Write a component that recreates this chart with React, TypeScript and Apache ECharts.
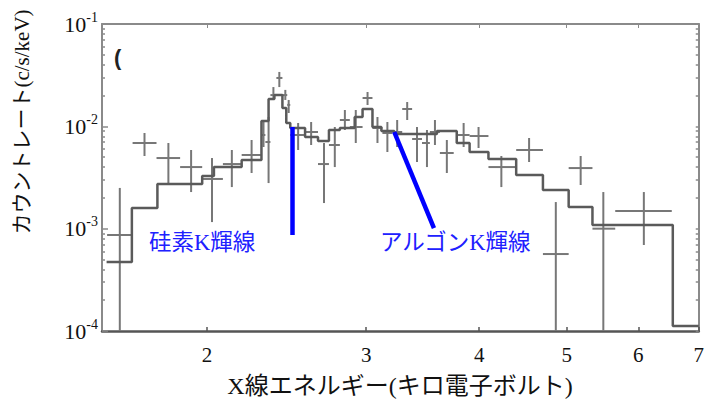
import React, { useEffect, useRef } from "react";
import * as echarts from "echarts";

// Model (step histogram): bin edges in keV and levels in c/s/keV
const modelEdges = [
  1.548, 1.651, 1.762, 1.975, 2.035, 2.184, 2.297, 2.339, 2.374, 2.423, 2.447,
  2.472, 2.567, 2.653, 2.728, 2.805, 2.913, 2.972, 3.048, 3.118, 3.222, 3.592,
  3.778, 3.904, 4.096, 4.396, 4.706, 5.025, 5.339, 6.552, 7.0,
];
const modelLevels = [
  4.72e-4, 1.59e-3, 2.73e-3, 3.27e-3, 4.0e-3, 4.69e-3, 1.127e-2, 1.85e-2,
  2.02e-2, 1.51e-2, 1.078e-2, 9.63e-3, 7.86e-3, 7.19e-3, 9.21e-3, 9.63e-3,
  1.234e-2, 1.477e-2, 9.85e-3, 9.0e-3, 8.41e-3, 9.0e-3, 6.87e-3, 5.61e-3,
  4.79e-3, 3.34e-3, 2.39e-3, 1.63e-3, 1.086e-3, 1.119e-4,
];

// Observed data points with error bars
const errE = [
  1.601, 1.705, 1.812, 1.92, 2.025, 2.13, 2.24, 2.309, 2.339, 2.368, 2.404,
  2.441, 2.462, 2.522, 2.607, 2.694, 2.769, 2.841, 2.921, 3.01, 3.087, 3.166,
  3.246, 3.33, 3.414, 3.502, 3.574, 3.684, 3.845, 3.994, 4.233, 4.543, 4.863,
  5.181, 5.489, 6.086,
];
const errELo = [
  1.55, 1.654, 1.758, 1.867, 1.975, 2.082, 2.184, 2.297, 2.32, 2.35, 2.386,
  2.423, 2.453, 2.472, 2.567, 2.653, 2.728, 2.805, 2.877, 2.972, 3.048, 3.126,
  3.206, 3.288, 3.372, 3.458, 3.528, 3.619, 3.778, 3.904, 4.096, 4.396, 4.706,
  5.025, 5.339, 5.658,
];
const errEHi = [
  1.651, 1.758, 1.867, 1.975, 2.082, 2.184, 2.297, 2.32, 2.35, 2.386, 2.423,
  2.453, 2.472, 2.567, 2.653, 2.728, 2.805, 2.877, 2.972, 3.048, 3.126, 3.206,
  3.288, 3.372, 3.458, 3.528, 3.619, 3.749, 3.904, 4.096, 4.396, 4.706, 5.025,
  5.339, 5.658, 6.535,
];
const rate = [
  8.67e-4, 6.87e-3, 4.9e-3, 4.0e-3, 3.06e-3, 4.28e-3, 5.25e-3, 8.23e-3,
  7.03e-3, 2.02e-2, 2.97e-2, 2.02e-2, 1.62e-2, 8.23e-3, 8.8e-3, 4.28e-3,
  6.57e-3, 1.153e-2, 9.85e-3, 1.891e-2, 9.63e-3, 8.61e-3, 8.8e-3, 1.477e-2,
  7.52e-3, 6.87e-3, 8.8e-3, 5.49e-3, 8.23e-3, 8.04e-3, 4.0e-3, 5.87e-3,
  5.65e-4, 3.91e-3, 1.0e-3, 1.49e-3,
];
const rateLo = [
  1e-4, 5.13e-3, 2.79e-3, 2.28e-3, 1.16e-3, 2.55e-3, 3.5e-3, 6.28e-3, 2.79e-3,
  1.81e-2, 2.42e-2, 1.81e-2, 1.35e-2, 5.87e-3, 6.57e-3, 1.78e-3, 4.0e-3,
  9.21e-3, 6.87e-3, 1.616e-2, 6.87e-3, 5.61e-3, 6.28e-3, 1.153e-2, 4.48e-3,
  4.0e-3, 6.57e-3, 3.5e-3, 6.28e-3, 6.14e-3, 2.55e-3, 4.48e-3, 1e-4, 2.67e-3,
  1e-4, 6.92e-4,
];
const rateHi = [
  2.5e-3, 8.61e-3, 6.87e-3, 5.87e-3, 4.9e-3, 5.87e-3, 7.35e-3, 1.153e-2,
  1.234e-2, 2.42e-2, 3.4e-2, 2.27e-2, 1.81e-2, 1.078e-2, 1.102e-2, 6.87e-3,
  9.85e-3, 1.444e-2, 1.444e-2, 2.165e-2, 1.234e-2, 1.102e-2, 1.153e-2,
  1.728e-2, 9.85e-3, 9.21e-3, 1.153e-2, 7.35e-3, 1.078e-2, 9.85e-3, 5.13e-3,
  7.69e-3, 1.82e-3, 5.13e-3, 2.28e-3, 2.28e-3,
];

// Axis ticks
const xTickValues = [2, 3, 4, 5, 6, 7];
const yMajorValues = [1e-4, 1e-3, 1e-2, 1e-1];
const mantissas = [2, 3, 4, 5, 6, 7, 8, 9];

// Annotation pointer lines (data coordinates)
const siPointer = [
  [2.485, 9.85e-3],
  [2.485, 8.67e-4],
];
const arPointer = [
  [3.222, 8.8e-3],
  [3.565, 1.01e-3],
];

const siLabel = "硅素K輝線";
const arLabel = "アルゴンK輝線";
const xTitle = "X線エネルギー(キロ電子ボルト)";
const yTitle = "カウントレート(c/s/keV)";

const FONT = '"Liberation Serif", "Noto Sans CJK JP", serif';

export default function App() {
  const ref = useRef<HTMLDivElement>(null);

  useEffect(() => {
    if (!ref.current) return;
    const chart = echarts.init(ref.current, null, { renderer: "svg" });

    const modelData: number[][] = modelLevels.map((v, i) => [modelEdges[i], v]);
    modelData.push([
      modelEdges[modelEdges.length - 1],
      modelLevels[modelLevels.length - 1],
    ]);

    const yMinor: number[] = [];
    for (let d = 0; d < yMajorValues.length - 1; d++) {
      for (const m of mantissas) yMinor.push(m * yMajorValues[d]);
    }

    const errData = errE.map((e, i) => [
      e,
      rate[i],
      errELo[i],
      errEHi[i],
      rateLo[i],
      rateHi[i],
    ]);

    const yFormatter = (v: number) => {
      const e = Math.round(Math.log10(v));
      return `{b|10}{s|${e}}`;
    };

    const frameGray = "#8a8a8a";

    chart.setOption({
      animation: false,
      backgroundColor: "#ffffff",
      grid: { left: 102, right: 3, top: 24, bottom: 71, containLabel: false },
      xAxis: [
        {
          type: "log",
          logBase: 10,
          min: 1.53,
          max: 7.0,
          position: "bottom",
          axisLine: { show: true, lineStyle: { color: "#555", width: 2.5 } },
          axisTick: {
            show: true,
            inside: true,
            length: 4,
            customValues: xTickValues,
            lineStyle: { color: "#555", width: 1.5 },
          },
          minorTick: { show: false },
          splitLine: { show: false },
          axisLabel: {
            customValues: xTickValues,
            formatter: (v: number) => String(Math.round(v)),
            fontFamily: FONT,
            fontSize: 21,
            color: "#111",
            margin: 13,
          },
        },
        {
          type: "log",
          logBase: 10,
          min: 1.53,
          max: 7.0,
          position: "top",
          axisLine: { show: true, lineStyle: { color: frameGray, width: 2 } },
          axisTick: {
            show: true,
            inside: true,
            length: 4,
            customValues: xTickValues,
            lineStyle: { color: frameGray },
          },
          axisLabel: { show: false },
          splitLine: { show: false },
        },
      ],
      yAxis: [
        {
          type: "log",
          logBase: 10,
          min: 1e-4,
          max: 1e-1,
          position: "left",
          axisLine: { show: true, lineStyle: { color: frameGray, width: 2 } },
          axisTick: {
            show: true,
            inside: true,
            length: 6,
            customValues: yMajorValues,
            lineStyle: { color: frameGray, width: 1.5 },
          },
          splitLine: { show: false },
          axisLabel: {
            customValues: yMajorValues,
            formatter: yFormatter,
            margin: 4,
            rich: {
              b: { fontFamily: FONT, fontSize: 22, color: "#111" },
              s: {
                fontFamily: FONT,
                fontSize: 14,
                color: "#111",
                padding: [0, 0, 14, 0],
              },
            },
          },
        },
        {
          type: "log",
          logBase: 10,
          min: 1e-4,
          max: 1e-1,
          position: "left",
          axisLine: { show: false },
          axisTick: {
            show: true,
            inside: true,
            length: 3,
            customValues: yMinor,
            lineStyle: { color: frameGray, width: 1.5 },
          },
          axisLabel: { show: false },
          splitLine: { show: false },
        },
        {
          type: "log",
          logBase: 10,
          min: 1e-4,
          max: 1e-1,
          position: "right",
          axisLine: { show: true, lineStyle: { color: frameGray, width: 2 } },
          axisTick: {
            show: true,
            inside: true,
            length: 3,
            customValues: yMinor.concat(yMajorValues),
            lineStyle: { color: frameGray, width: 1.5 },
          },
          axisLabel: { show: false },
          splitLine: { show: false },
        },
      ],
      series: [
        {
          type: "custom",
          name: "data",
          xAxisIndex: 0,
          yAxisIndex: 0,
          clip: true,
          data: errData,
          renderItem: (params: any, api: any) => {
            const c = api.coord([api.value(0), api.value(1)]);
            const l = api.coord([api.value(2), api.value(1)]);
            const r = api.coord([api.value(3), api.value(1)]);
            const lo = api.coord([api.value(0), api.value(4)]);
            const hi = api.coord([api.value(0), api.value(5)]);
            const style = { stroke: "#777777", lineWidth: 2 };
            return {
              type: "group",
              children: [
                {
                  type: "line",
                  shape: { x1: l[0], y1: c[1], x2: r[0], y2: c[1] },
                  style,
                },
                {
                  type: "line",
                  shape: { x1: c[0], y1: lo[1], x2: c[0], y2: hi[1] },
                  style,
                },
              ],
            };
          },
          z: 2,
        },
        {
          type: "line",
          name: "model",
          xAxisIndex: 0,
          yAxisIndex: 0,
          step: "end",
          data: modelData,
          showSymbol: false,
          symbol: "none",
          lineStyle: { color: "#5a5a5a", width: 2.5 },
          z: 3,
          markLine: {
            silent: true,
            symbol: ["none", "none"],
            label: { show: false },
            lineStyle: { color: "#0000ff", width: 4.5, type: "solid" },
            data: [
              [{ coord: siPointer[0] }, { coord: siPointer[1] }],
              [{ coord: arPointer[0] }, { coord: arPointer[1] }],
            ],
            z: 5,
          },
        },
      ],
      graphic: [
        {
          type: "text",
          x: 149,
          y: 242,
          style: {
            text: siLabel,
            fontFamily: FONT,
            fontSize: 22.5,
            fill: "#2020ff",
            align: "left",
            verticalAlign: "middle",
          },
        },
        {
          type: "text",
          x: 380,
          y: 242,
          style: {
            text: arLabel,
            fontFamily: FONT,
            fontSize: 22.5,
            fill: "#2020ff",
            align: "left",
            verticalAlign: "middle",
          },
        },
        {
          type: "text",
          x: 400,
          y: 386,
          style: {
            text: xTitle,
            fontFamily: FONT,
            fontSize: 24,
            fill: "#111",
            align: "center",
            verticalAlign: "middle",
          },
        },
        {
          type: "text",
          x: 22,
          y: 122,
          rotation: Math.PI / 2,
          style: {
            text: yTitle,
            fontFamily: FONT,
            fontSize: 21,
            fill: "#111",
            align: "center",
            verticalAlign: "middle",
          },
        },
        {
          type: "text",
          x: 114,
          y: 57,
          style: {
            text: "(",
            fontFamily: '"Liberation Sans", sans-serif',
            fontWeight: "bold",
            fontSize: 22,
            fill: "#222",
            align: "left",
            verticalAlign: "middle",
          },
        },
      ],
    });

    return () => {
      chart.dispose();
    };
  }, []);

  return (
    <div
      ref={ref}
      style={{
        position: "fixed",
        left: 0,
        top: 0,
        width: 707,
        height: 402,
        background: "#fff",
      }}
    />
  );
}
